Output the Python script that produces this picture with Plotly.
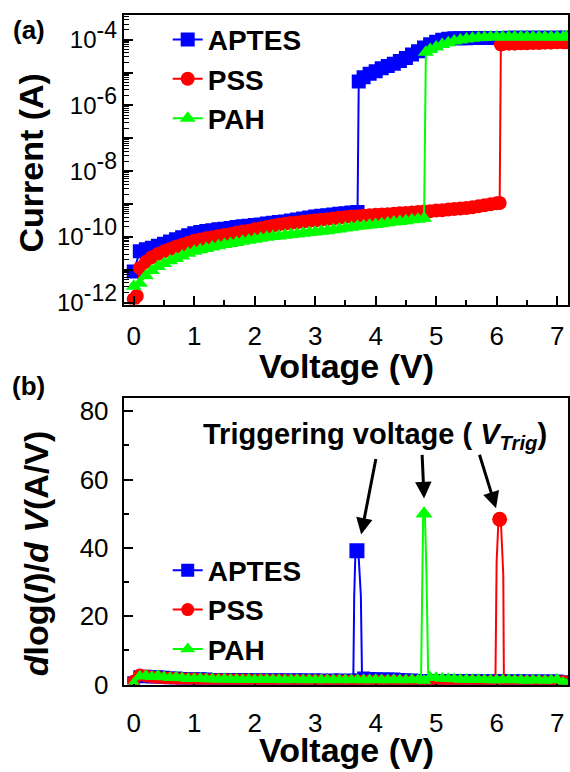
import numpy as np
import plotly.graph_objects as go

# ---------------- Panel (a): I-V sweeps (log10 of current in A) ----------------
aptes_v = [0.0, 0.1, 0.2, 0.3, 0.4, 0.5, 0.6, 0.7, 0.8, 0.9, 1.0, 1.1, 1.2, 1.3, 1.4, 1.5, 1.6, 1.7, 1.8, 1.9,
           2.0, 2.1, 2.2, 2.3, 2.4, 2.5, 2.6, 2.7, 2.8, 2.9, 3.0, 3.1, 3.2, 3.3, 3.4, 3.5, 3.6, 3.7,
           3.72, 3.8, 3.9, 4.0, 4.1, 4.2, 4.3, 4.4, 4.5, 4.6, 4.7, 4.8, 4.9, 5.0, 5.1, 5.2, 5.3, 5.4, 5.5,
           5.6, 5.7, 5.8, 5.9, 6.0, 6.1, 6.2, 6.3, 6.4, 6.5, 6.6, 6.7, 6.8, 6.9, 7.0, 7.1, 7.15]
aptes_log_i = [-11.05, -10.44, -10.38, -10.33, -10.27, -10.21, -10.14, -10.07, -10.01, -9.95, -9.89, -9.85,
               -9.82, -9.80, -9.77, -9.75, -9.73, -9.70, -9.68, -9.66, -9.64, -9.62, -9.59, -9.57, -9.55,
               -9.53, -9.50, -9.47, -9.44, -9.41, -9.38, -9.36, -9.34, -9.32, -9.30, -9.28, -9.26, -9.24,
               -5.27, -5.14, -5.04, -4.96, -4.87, -4.80, -4.73, -4.65, -4.56, -4.45, -4.35, -4.24, -4.14,
               -4.06, -4.00, -3.97, -3.96, -3.96, -3.96, -3.95, -3.95, -3.95, -3.95, -3.95, -3.95, -3.94,
               -3.94, -3.94, -3.94, -3.94, -3.94, -3.94, -3.94, -3.94, -3.94, -3.94]

pss_v = [0.0, 0.05, 0.1, 0.2, 0.3, 0.4, 0.5, 0.6, 0.7, 0.8, 0.9, 1.0, 1.1, 1.2, 1.3, 1.4, 1.5, 1.6, 1.7, 1.8,
         1.9, 2.0, 2.1, 2.2, 2.3, 2.4, 2.5, 2.6, 2.7, 2.8, 2.9, 3.0, 3.1, 3.2, 3.3, 3.4, 3.5, 3.6, 3.7, 3.8,
         3.9, 4.0, 4.1, 4.2, 4.3, 4.4, 4.5, 4.6, 4.7, 4.8, 4.9, 5.0, 5.1, 5.2, 5.3, 5.4, 5.5, 5.6, 5.7, 5.8,
         5.9, 6.0, 6.05, 6.07, 6.1, 6.2, 6.3, 6.4, 6.5, 6.6, 6.7, 6.8, 6.9, 7.0, 7.1, 7.15]
pss_log_i = [-11.90, -11.80, -10.95, -10.76, -10.62, -10.52, -10.44, -10.37, -10.30, -10.24, -10.18, -10.12,
             -10.08, -10.04, -10.01, -9.97, -9.94, -9.91, -9.87, -9.84, -9.81, -9.77, -9.74, -9.70, -9.66,
             -9.62, -9.60, -9.58, -9.56, -9.54, -9.52, -9.50, -9.48, -9.46, -9.44, -9.42, -9.40, -9.38,
             -9.37, -9.36, -9.34, -9.33, -9.32, -9.31, -9.30, -9.28, -9.27, -9.26, -9.24, -9.23, -9.22,
             -9.20, -9.19, -9.17, -9.15, -9.14, -9.12, -9.10, -9.07, -9.04, -9.01, -8.98, -8.97,
             -4.15, -4.13, -4.12, -4.12, -4.11, -4.11, -4.10, -4.10, -4.09, -4.09, -4.08, -4.08, -4.08]

pah_v = [0.0, 0.1, 0.2, 0.3, 0.4, 0.5, 0.6, 0.7, 0.8, 0.9, 1.0, 1.1, 1.2, 1.3, 1.4, 1.5, 1.6, 1.7, 1.8, 1.9,
         2.0, 2.1, 2.2, 2.3, 2.4, 2.5, 2.6, 2.7, 2.8, 2.9, 3.0, 3.1, 3.2, 3.3, 3.4, 3.5, 3.6, 3.7, 3.8, 3.9,
         4.0, 4.1, 4.2, 4.3, 4.4, 4.5, 4.6, 4.7, 4.8, 4.83, 4.9, 5.0, 5.1, 5.2, 5.3, 5.4, 5.5, 5.6, 5.7,
         5.8, 5.9, 6.0, 6.1, 6.2, 6.3, 6.4, 6.5, 6.6, 6.7, 6.8, 6.9, 7.0, 7.1, 7.15]
pah_log_i = [-11.50, -11.41, -11.18, -11.02, -10.90, -10.81, -10.73, -10.66, -10.58, -10.50, -10.44, -10.39,
             -10.35, -10.31, -10.27, -10.23, -10.20, -10.17, -10.13, -10.10, -10.07, -10.04, -10.01, -9.99,
             -9.97, -9.95, -9.93, -9.91, -9.89, -9.87, -9.85, -9.83, -9.81, -9.78, -9.76, -9.73, -9.71,
             -9.68, -9.66, -9.64, -9.62, -9.60, -9.57, -9.55, -9.53, -9.51, -9.48, -9.46, -9.43,
             -4.38, -4.30, -4.22, -4.15, -4.09, -4.04, -4.01, -3.98, -3.96, -3.94, -3.93, -3.92, -3.92,
             -3.92, -3.92, -3.92, -3.92, -3.92, -3.92, -3.92, -3.92, -3.92, -3.92, -3.92, -3.92]

# ---------------- Panel (b): d log(I) / dV ----------------
deriv_v = [0.0, 0.1, 0.2, 0.3, 0.4, 0.5, 0.6, 0.7, 0.8, 0.9, 1.0, 1.1, 1.2, 1.3, 1.4, 1.5, 1.6, 1.7, 1.8, 1.9,
           2.0, 2.1, 2.2, 2.3, 2.4, 2.5, 2.6, 2.7, 2.8, 2.9, 3.0, 3.1, 3.2, 3.3, 3.4, 3.5, 3.6, 3.7, 3.8, 3.9,
           4.0, 4.1, 4.2, 4.3, 4.4, 4.5, 4.6, 4.7, 4.8, 4.9, 5.0, 5.1, 5.2, 5.3, 5.4, 5.5, 5.6, 5.7, 5.8, 5.9,
           6.0, 6.1, 6.2, 6.3, 6.4, 6.5, 6.6, 6.7, 6.8, 6.9, 7.0, 7.1, 7.15]
aptes_deriv = [0.5, 2.3, 2.4, 2.2, 2.3, 2.1, 1.9, 1.9, 1.8, 1.7, 1.6, 1.7, 1.6, 1.5, 1.5, 1.5, 1.4, 1.5, 1.4,
               1.4, 1.4, 1.3, 1.4, 1.3, 1.4, 1.3, 1.3, 1.4, 1.3, 1.3, 1.3, 1.3, 1.2, 1.3, 1.3, 1.2, 1.3, 1.3,
               1.9, 1.8, 1.7, 1.6, 1.6, 1.6, 1.5, 1.3, 1.3, 1.2, 1.2, 1.2, 1.2, 1.2, 1.2, 1.2, 1.1, 1.2, 1.1,
               1.1, 1.1, 1.1, 1.1, 1.1, 1.1, 1.0, 1.1, 1.0, 1.0, 1.0, 1.0, 1.0, 1.0, 0.8, 0.1]
pss_deriv = [1.0, 2.8, 2.5, 2.2, 2.1, 2.0, 1.9, 1.8, 1.7, 1.6, 1.6, 1.5, 1.5, 1.4, 1.4, 1.4, 1.3, 1.3, 1.3,
             1.3, 1.2, 1.3, 1.2, 1.2, 1.2, 1.2, 1.1, 1.2, 1.1, 1.1, 1.1, 1.1, 1.1, 1.0, 1.1, 1.0, 1.0, 1.0,
             1.0, 1.0, 1.0, 1.0, 0.9, 1.0, 0.9, 0.9, 0.9, 0.9, 0.2, 0.9, 0.9, 0.9, 0.9, 0.9, 0.9, 0.8, 0.9,
             0.8, 0.8, 0.8, 0.8, 0.8, 0.8, 0.8, 0.8, 0.8, 0.8, 0.8, 0.8, 0.8, 0.8, 0.9, 0.2]
pah_deriv = [0.3, 2.4, 2.6, 2.3, 2.6, 2.2, 2.0, 2.1, 1.9, 1.7, 1.7, 1.8, 1.6, 1.6, 1.5, 1.6, 1.5, 1.5, 1.4,
             1.5, 1.4, 1.4, 1.5, 1.4, 1.4, 1.3, 1.4, 1.4, 1.3, 1.4, 1.3, 1.4, 1.3, 1.4, 1.3, 1.4, 1.3, 1.4,
             1.3, 1.3, 1.4, 1.3, 1.3, 1.4, 1.3, 1.3, 1.4, 1.3, 1.2, 2.1, 2.0, 1.8, 1.7, 1.6, 1.5, 1.5, 1.4,
             1.4, 1.4, 1.3, 1.3, 1.3, 1.4, 1.3, 1.3, 1.2, 1.3, 1.3, 1.2, 1.3, 1.5, 0.6, 0.0]

aptes_spike_v = [3.63, 3.645, 3.665, 3.69, 3.715, 3.755, 3.775]
aptes_spike_d = [1.2, 26.0, 38.5, 39.2, 38.5, 26.0, 1.2]
pss_spike_v = [5.98, 5.99, 6.00, 6.03, 6.05, 6.07, 6.10, 6.11, 6.12]
pss_spike_d = [1.0, 32.0, 36.0, 48.0, 48.4, 48.0, 36.0, 32.0, 1.0]
pah_spike_v = [4.75, 4.76, 4.77, 4.785, 4.80, 4.815, 4.84, 4.85, 4.87]
pah_spike_d = [1.2, 16.0, 32.0, 49.5, 50.0, 49.5, 32.0, 16.0, 1.2]

series_names = ["APTES", "PSS", "PAH"]
colors = ["#0000FF", "#FF0000", "#00FF00"]
symbols = ["square", "circle", "triangle-up"]

y_tick_exponents = [-12, -11, -10, -9, -8, -7, -6, -5, -4]
x_ticks = [0, 1, 2, 3, 4, 5, 6, 7]
b_y_ticks = [0, 20, 40, 60, 80]

FONT = "Liberation Sans, Arial, sans-serif"

fig = go.Figure()

panel_a = [(aptes_v, aptes_log_i), (pss_v, pss_log_i), (pah_v, pah_log_i)]
for (v, li), name, col, sym in zip(panel_a, series_names, colors, symbols):
    fig.add_trace(go.Scatter(
        x=v, y=np.power(10.0, np.array(li)), mode="lines+markers", name=name,
        line=dict(color=col, width=2), marker=dict(color=col, symbol=sym, size=14, line=dict(width=0)),
        xaxis="x", yaxis="y", legend="legend"))

panel_b = [(aptes_deriv, aptes_spike_v, aptes_spike_d), (pss_deriv, pss_spike_v, pss_spike_d),
           (pah_deriv, pah_spike_v, pah_spike_d)]
for (d, sv, sd), name, col, sym in zip(panel_b, series_names, colors, symbols):
    fig.add_trace(go.Scatter(
        x=deriv_v, y=d, mode="lines+markers", name=name,
        line=dict(color=col, width=2), marker=dict(color=col, symbol=sym, size=13, line=dict(width=0)),
        xaxis="x2", yaxis="y2", legend="legend2"))
    fig.add_trace(go.Scatter(
        x=sv, y=sd, mode="lines", showlegend=False,
        line=dict(color=col, width=2), xaxis="x2", yaxis="y2"))
    k = int(np.argmax(sd))
    fig.add_trace(go.Scatter(
        x=[sv[k]], y=[sd[k]], mode="markers", showlegend=False,
        marker=dict(color=col, symbol=sym, size=15, line=dict(width=0)), xaxis="x2", yaxis="y2"))

W, H = 570, 772
xdom = [124 / W, 569 / W]
axis_common = dict(showline=True, linecolor="black", linewidth=2, mirror=True, showgrid=False,
                   zeroline=False, ticks="inside", tickcolor="black", tickwidth=1.5, ticklen=9,
                   tickfont=dict(family=FONT, size=26, color="black"))

minor_log = [k * 10.0 ** e for e in range(-13, -3) for k in range(2, 10)]
ytext = ["10<sup><span style='font-size:23px'>%d</span></sup>" % e if e % 2 == 0 else ""
         for e in y_tick_exponents]

fig.update_layout(
    width=W, height=H, margin=dict(l=0, r=0, t=0, b=0),
    paper_bgcolor="white", plot_bgcolor="white",
    xaxis=dict(axis_common, domain=xdom, range=[-0.165, 7.18], tickvals=x_ticks, anchor="y",
               ticklabelstandoff=7,
               minor=dict(dtick=0.5, tick0=0, ticks="inside", ticklen=5, tickcolor="black", tickwidth=1.5)),
    yaxis=dict(axis_common, domain=[1 - 310 / H, 1 - 14 / H], type="log", range=[-12.06, -3.24],
               tickvals=[10.0 ** e for e in y_tick_exponents], ticktext=ytext, anchor="x",
               tickfont=dict(family=FONT, size=24, color="black"),
               minor=dict(tickvals=minor_log, ticks="inside", ticklen=5, tickcolor="black", tickwidth=1)),
    xaxis2=dict(axis_common, domain=xdom, range=[-0.165, 7.18], tickvals=x_ticks, ticks="inside",
                ticklen=0.1, anchor="y2", ticklabelstandoff=14),
    yaxis2=dict(axis_common, domain=[1 - 698 / H, 1 - 405 / H], range=[0, 84], tickvals=b_y_ticks,
                anchor="x2", ticklabelstandoff=8,
                minor=dict(dtick=10, tick0=0, ticks="inside", ticklen=5, tickcolor="black", tickwidth=1.5)),
    legend=dict(x=168 / W, y=1 - 14 / H, xanchor="left", yanchor="top", bgcolor="rgba(0,0,0,0)",
                font=dict(family=FONT, size=28, color="black", weight="bold"), tracegroupgap=0),
    legend2=dict(x=168 / W, y=1 - 556 / H, xanchor="left", yanchor="top", bgcolor="rgba(0,0,0,0)",
                 font=dict(family=FONT, size=28, color="black", weight="bold"), tracegroupgap=0),
)

def px_annot(text, x, y, size, angle=0, weight="bold"):
    fig.add_annotation(text=text, xref="paper", yref="paper", x=x / W, y=1 - y / H,
                       xanchor="center", yanchor="middle", showarrow=False, textangle=angle,
                       font=dict(family=FONT, size=size, color="black", weight=weight))

px_annot("(a)", 29, 30, 26)
px_annot("(b)", 29, 393, 26)
px_annot("Current (A)", 31, 165, 34, angle=-90)
px_annot("Voltage (V)", 347, 373, 34)
px_annot("<i>d</i>log(<i>I</i>)/<i>d</i> <i>V</i>(A/V)", 36, 564, 34, angle=-90)
px_annot("Voltage (V)", 347, 765, 34)
px_annot("Triggering voltage ( <i>V</i><sub><i>Trig</i></sub>)", 376, 444, 29)

# arrows pointing to the triggering peaks
for hx, hy, ax, ay in [(3.76, 43.9, 15, -77), (4.80, 54.5, -2, -45), (5.99, 51.6, -17, -55)]:
    fig.add_annotation(x=hx, y=hy, xref="x2", yref="y2", ax=ax, ay=ay, text="", showarrow=True,
                       arrowhead=2, arrowsize=1.1, arrowwidth=3, arrowcolor="black")

fig.write_html("out.html")
